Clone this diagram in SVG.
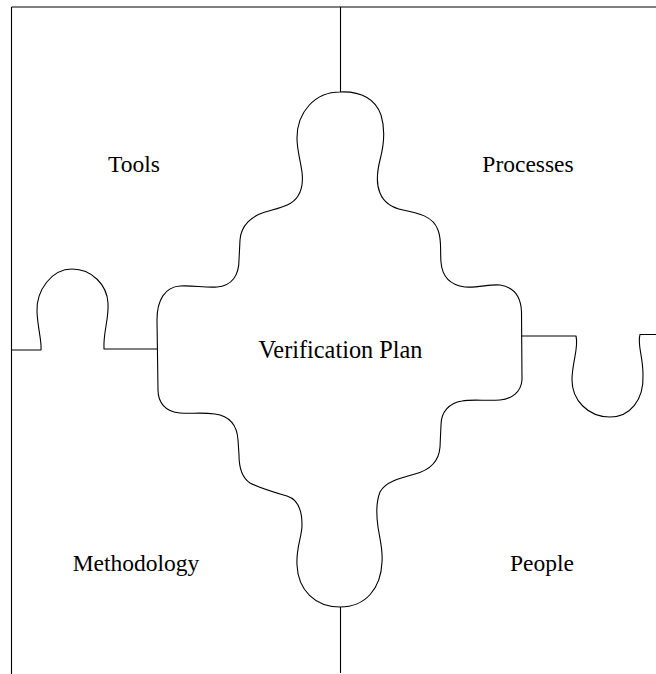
<svg xmlns="http://www.w3.org/2000/svg" width="656" height="674" viewBox="0 0 656 674">
<style>
.edge{fill:none;stroke:#000;stroke-width:1.1;stroke-linejoin:round;stroke-linecap:butt}
.lbl{font-family:'Liberation Serif','Times New Roman','DejaVu Serif',serif;font-size:23.5px;fill:#000;text-anchor:middle}
</style>
<rect x="0" y="0" width="656" height="674" fill="#fff"/>
<g id="boundaries">
<path class="edge" d="M11.5 7 L656 7"/>
<path class="edge" d="M11.5 7 L11.5 674"/>
<path class="edge" d="M340.5 7 L340.5 92"/>
<path class="edge" d="M340.5 607 L340.5 673"/>
<path class="edge" d="M11.5 350 L41 350 C42 342, 38 330, 37 312 C36 290, 52 269, 72 269 C92 269, 107 285, 108 303 C109 320, 103 332, 104 349 L157 349"/>
<path class="edge" d="M522 336 L576 336 C579 348, 572 362, 572 380 C572 400, 588 417, 610 417 C630 417, 644 400, 643 375 C643 355, 637 345, 640 334.5 L656 334.5"/>
</g>
<g id="verification-plan">
<path class="edge" d="M340 92 C362 91, 376 100, 381 115 C385 128, 384 145, 380 160 C377 172, 376 184, 380 193 C384 203, 393 208, 403 210 C418 213, 433 216, 438 230 C442 240, 440 252, 441 262 C442 276, 450 285, 465 287 C478 288, 490 284, 500 285 C513 287, 521 296, 521.5 312 L522 380 C521 392, 512 399, 500 400 C485 401, 472 399, 462 401 C449 403, 441 412, 441 425 L440 447 C439 461, 430 470, 415 474 C400 478, 385 482, 380 492 C376 502, 376 513, 378 527 C380 540, 383 550, 382 562 C381 588, 366 607, 340 607 C315 607, 298 590, 297 565 C296 547, 302 537, 302 525 C302 510, 297 499, 287 496 C277 493, 262 489, 250 483 C241 477, 239 466, 239 455 L238 440 C237 425, 230 416, 215 414 C200 412, 192 414, 180 413 C165 412, 158 402, 158 390 L157 320 C157 300, 165 287, 180 286 C192 285, 205 288, 217 287 C232 286, 239 275, 239 260 L240 240 C241 225, 252 216, 265 212 C278 208, 292 206, 298 196 C303 188, 303 180, 302 172 C300 158, 297 150, 297 138 C297 112, 315 92, 340 92 Z"/>
<text class="lbl" font-family="Liberation Serif, serif" x="340.5" y="358" style="font-size:24.3px">Verification Plan</text>
</g>
<g id="tools"><text class="lbl" font-family="Liberation Serif, serif" x="134" y="172">Tools</text></g>
<g id="processes"><text class="lbl" font-family="Liberation Serif, serif" x="528" y="172">Processes</text></g>
<g id="methodology"><text class="lbl" font-family="Liberation Serif, serif" x="136" y="571">Methodology</text></g>
<g id="people"><text class="lbl" font-family="Liberation Serif, serif" x="542" y="571">People</text></g>
</svg>
